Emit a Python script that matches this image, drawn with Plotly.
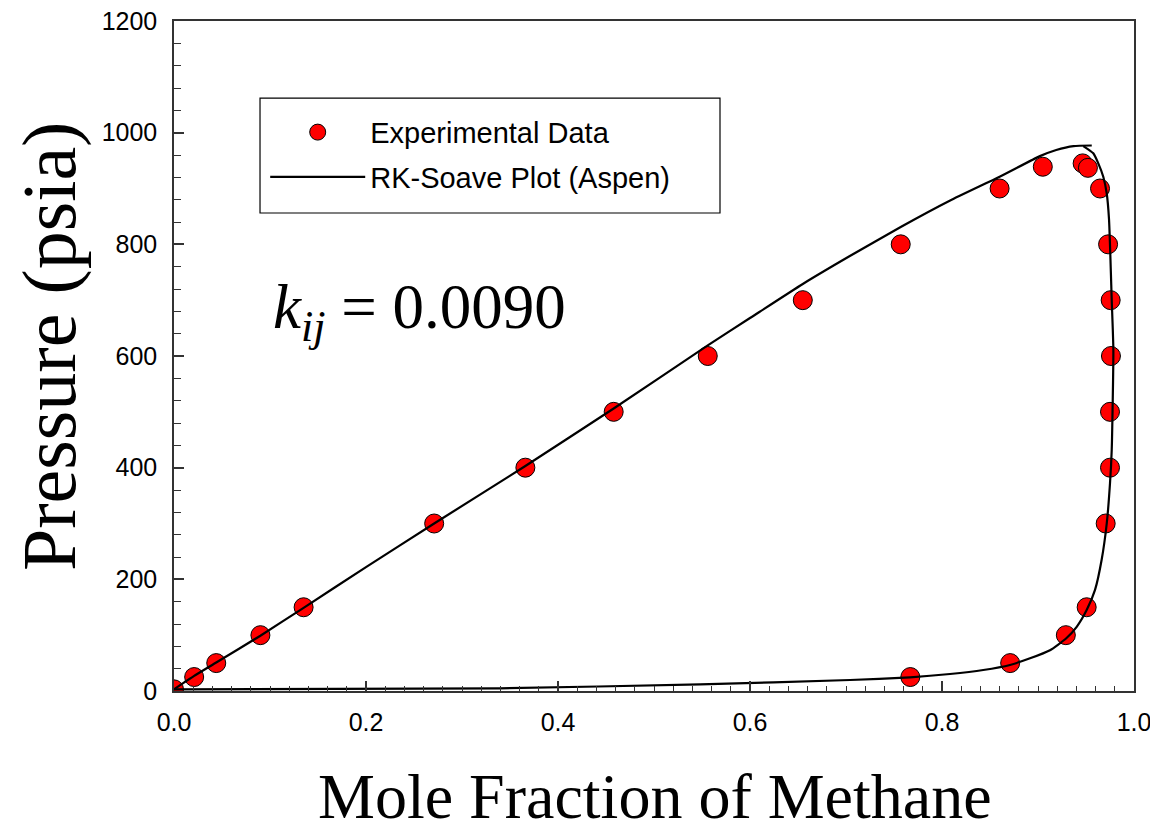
import plotly.graph_objects as go

# Experimental data (mole fraction of methane, pressure psia)
liq_x = [0.0, 0.021, 0.044, 0.090, 0.135, 0.271, 0.366, 0.458, 0.556, 0.655, 0.757, 0.860, 0.905, 0.9465]
liq_p = [3, 25, 50, 100, 150, 300, 400, 500, 600, 700, 800, 900, 939, 945]
vap_x = [0.952, 0.9646, 0.973, 0.9757, 0.976, 0.975, 0.975, 0.9705, 0.9507, 0.929, 0.871, 0.767]
vap_p = [937, 900, 800, 700, 600, 500, 400, 300, 150, 100, 50, 25]

# RK-Soave curve (Aspen)
bub_x = [0.0, 0.021, 0.044, 0.090, 0.135, 0.200, 0.271, 0.366, 0.458, 0.556, 0.600, 0.655, 0.704,
         0.757, 0.808, 0.860, 0.902, 0.919, 0.937, 0.956]
bub_p = [3, 27, 51, 99, 149, 222, 300, 403, 506, 619, 668, 729, 779,
         831, 878, 921, 958, 969, 976, 977]
dew_x = [0.9472, 0.9576, 0.9628, 0.9680, 0.9716, 0.9740, 0.9768, 0.9785, 0.9768, 0.9750, 0.9716, 0.9663,
         0.9594, 0.9507, 0.9403, 0.9292, 0.9125, 0.8917, 0.8708, 0.8430, 0.8083, 0.7667, 0.7042, 0.548, 0.3396, 0.0]
dew_p = [976, 963, 945, 921, 891, 844, 700, 611, 432, 372, 300, 235,
         181, 145, 115, 94, 73, 58.5, 46.6, 37.6, 30.4, 24.5, 19.7, 12, 4.8, 3]

x_title = "Mole Fraction of Methane"
y_title = "Pressure (psia)"

fig = go.Figure()
marker = dict(size=19, color="#ff0000", line=dict(color="black", width=1))
fig.add_trace(go.Scatter(x=liq_x, y=liq_p, mode="markers", marker=marker,
                         name="Experimental Data", legendgroup="exp"))
fig.add_trace(go.Scatter(x=vap_x, y=vap_p, mode="markers", marker=marker,
                         name="Experimental Data", legendgroup="exp", showlegend=False))
line_style = dict(color="black", width=2.2, shape="spline", smoothing=0.5)
fig.add_trace(go.Scatter(x=bub_x, y=bub_p, mode="lines", line=line_style,
                         name="RK-Soave Plot (Aspen)", legendgroup="rk"))
fig.add_trace(go.Scatter(x=dew_x, y=dew_p, mode="lines", line=line_style,
                         name="RK-Soave Plot (Aspen)", legendgroup="rk", showlegend=False))

axis_common = dict(
    showgrid=False, zeroline=False, showline=True, linecolor="#333333", linewidth=1.5,
    mirror=True, ticks="inside", tickcolor="#333333", tickwidth=1.5, automargin=False,
    ticklabeloverflow="allow",
    tickfont=dict(family="Arial, Liberation Sans", size=25, color="black"),
)

fig.update_xaxes(range=[0, 1.0], dtick=0.2, tickformat=".1f", ticklen=10,
                 minor=dict(dtick=0.02, ticks="inside", ticklen=5, tickcolor="#333333", tickwidth=1.2),
                 ticklabelstandoff=8,
                 **axis_common)
fig.update_yaxes(range=[0, 1200], dtick=200, ticklen=10,
                 minor=dict(dtick=40, ticks="inside", ticklen=7, tickcolor="#333333", tickwidth=1.2),
                 ticklabelstandoff=10,
                 **axis_common)

title_font = dict(family="Liberation Serif, Times New Roman", color="black")
fig.add_annotation(text=x_title, xref="paper", yref="paper", x=0.501, y=-0.157,
                   showarrow=False, xanchor="center", yanchor="middle",
                   font=dict(size=64, **title_font))
fig.add_annotation(text=y_title, textangle=-90, xref="paper", yref="paper", x=-0.129, y=0.515,
                   showarrow=False, xanchor="center", yanchor="middle",
                   font=dict(size=76, **title_font))
fig.add_annotation(text="<i>k</i><sub><i>ij</i></sub> = 0.0090", xref="paper", yref="paper",
                   x=0.256, y=0.566, showarrow=False, xanchor="center", yanchor="middle",
                   font=dict(size=63, **title_font))

# legend frame
fig.add_shape(type="rect", xref="paper", yref="paper", x0=0.0896, x1=0.56875, y0=0.7134, y1=0.885,
              line=dict(color="black", width=1.2), fillcolor="white", layer="below")

fig.update_layout(
    width=1150, height=814,
    margin=dict(l=166, r=24, t=13, b=131),
    paper_bgcolor="white", plot_bgcolor="white",
    showlegend=True,
    legend=dict(x=0.095, y=0.872, xanchor="left", yanchor="top", bgcolor="rgba(0,0,0,0)",
                borderwidth=0, itemwidth=95, tracegroupgap=4,
                font=dict(family="Arial, Liberation Sans", size=29, color="black")),
)

fig.write_html("out.html")
